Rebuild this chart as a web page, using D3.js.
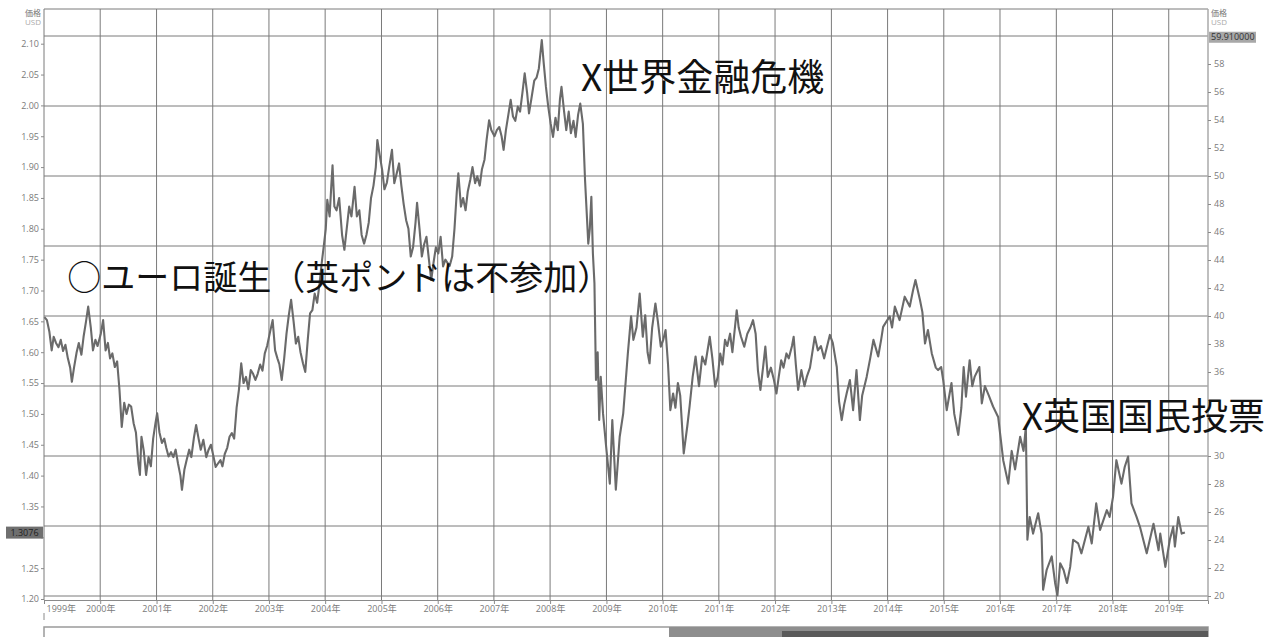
<!DOCTYPE html>
<html><head><meta charset="utf-8">
<script src="https://cdn.jsdelivr.net/npm/d3@7"></script>
<style>
html,body{margin:0;padding:0;background:#fff;}
svg{display:block;}
</style></head>
<body>
<svg id="chart" width="1280" height="637"></svg>
<script>
// ---- data (GBP/USD) ----
const gbpUsd = [
["1999-01-04",1.657],["1999-01-20",1.652],["1999-02-05",1.633],["1999-02-20",1.603],["1999-03-05",1.625],["1999-03-20",1.615],
["1999-04-05",1.608],["1999-04-20",1.620],["1999-05-05",1.602],["1999-05-20",1.612],["1999-06-05",1.590],["1999-06-20",1.575],
["1999-07-01",1.552],["1999-07-15",1.575],["1999-08-01",1.600],["1999-08-15",1.615],["1999-09-01",1.596],["1999-09-15",1.625],
["1999-10-01",1.650],["1999-10-15",1.674],["1999-11-01",1.640],["1999-11-15",1.603],["1999-12-01",1.620],["1999-12-15",1.610],
["2000-01-05",1.630],["2000-01-20",1.652],["2000-02-05",1.603],["2000-02-20",1.615],["2000-03-05",1.590],["2000-03-20",1.598],
["2000-04-05",1.576],["2000-04-20",1.585],["2000-05-05",1.540],["2000-05-20",1.479],["2000-06-05",1.518],["2000-06-20",1.500],
["2000-07-05",1.515],["2000-07-20",1.512],["2000-08-05",1.485],["2000-08-20",1.470],["2000-09-05",1.420],["2000-09-15",1.401],
["2000-09-25",1.463],["2000-10-10",1.440],["2000-10-25",1.401],["2000-11-10",1.430],["2000-11-25",1.415],["2000-12-10",1.460],
["2000-12-25",1.485],
["2001-01-05",1.501],["2001-01-20",1.470],["2001-02-05",1.453],["2001-02-20",1.460],["2001-03-05",1.445],["2001-03-20",1.431],
["2001-04-05",1.438],["2001-04-20",1.430],["2001-05-05",1.442],["2001-05-20",1.420],["2001-06-05",1.400],["2001-06-15",1.377],
["2001-07-01",1.410],["2001-07-15",1.425],["2001-08-01",1.442],["2001-08-15",1.430],["2001-09-01",1.462],["2001-09-15",1.482],
["2001-10-01",1.460],["2001-10-15",1.442],["2001-11-01",1.458],["2001-11-20",1.430],["2001-12-05",1.442],["2001-12-20",1.450],
["2002-01-05",1.432],["2002-01-20",1.414],["2002-02-05",1.420],["2002-02-20",1.425],["2002-03-05",1.415],["2002-03-20",1.435],
["2002-04-05",1.445],["2002-04-20",1.463],["2002-05-05",1.469],["2002-05-20",1.460],["2002-06-05",1.510],["2002-06-20",1.539],
["2002-07-05",1.582],["2002-07-20",1.550],["2002-08-05",1.560],["2002-08-20",1.540],["2002-09-05",1.571],["2002-09-20",1.565],
["2002-10-05",1.555],["2002-10-20",1.565],["2002-11-05",1.580],["2002-11-20",1.570],["2002-12-05",1.598],["2002-12-20",1.610],
["2003-01-10",1.635],["2003-01-25",1.652],["2003-02-10",1.603],["2003-02-25",1.590],["2003-03-10",1.580],["2003-03-25",1.555],
["2003-04-10",1.590],["2003-04-25",1.630],["2003-05-10",1.660],["2003-05-25",1.685],["2003-06-10",1.650],["2003-06-25",1.614],
["2003-07-10",1.625],["2003-07-25",1.600],["2003-08-10",1.582],["2003-08-25",1.568],["2003-09-10",1.620],["2003-09-25",1.663],
["2003-10-10",1.668],["2003-10-25",1.695],["2003-11-10",1.680],["2003-11-25",1.710],["2003-12-10",1.745],["2003-12-25",1.776],
["2004-01-05",1.800],["2004-01-15",1.847],["2004-01-30",1.820],["2004-02-10",1.870],["2004-02-18",1.903],["2004-03-01",1.836],
["2004-03-15",1.830],["2004-04-01",1.850],["2004-04-20",1.790],["2004-05-05",1.766],["2004-05-20",1.800],["2004-06-05",1.836],
["2004-06-20",1.820],["2004-07-10",1.868],["2004-07-25",1.820],["2004-08-10",1.830],["2004-08-25",1.790],["2004-09-10",1.776],
["2004-09-25",1.790],["2004-10-10",1.810],["2004-10-25",1.850],["2004-11-10",1.870],["2004-11-25",1.900],["2004-12-05",1.944],
["2004-12-20",1.920],
["2005-01-05",1.896],["2005-01-20",1.864],["2005-02-05",1.875],["2005-02-20",1.900],["2005-03-10",1.928],["2005-03-25",1.874],
["2005-04-10",1.890],["2005-04-25",1.906],["2005-05-10",1.870],["2005-05-25",1.840],["2005-06-10",1.814],["2005-06-25",1.800],
["2005-07-10",1.755],["2005-07-25",1.770],["2005-08-10",1.810],["2005-08-20",1.842],["2005-09-05",1.800],["2005-09-20",1.755],
["2005-10-05",1.775],["2005-10-20",1.787],["2005-11-05",1.750],["2005-11-20",1.717],["2005-12-05",1.745],["2005-12-20",1.770],
["2006-01-05",1.760],["2006-01-20",1.787],["2006-02-05",1.739],["2006-02-20",1.750],["2006-03-05",1.745],["2006-03-20",1.740],
["2006-04-05",1.755],["2006-04-20",1.800],["2006-05-05",1.860],["2006-05-15",1.890],["2006-06-01",1.836],["2006-06-15",1.850],
["2006-07-01",1.830],["2006-07-15",1.860],["2006-08-01",1.880],["2006-08-15",1.900],["2006-09-01",1.874],["2006-09-15",1.885],
["2006-10-01",1.870],["2006-10-15",1.896],["2006-11-01",1.912],["2006-11-15",1.945],["2006-12-01",1.976],["2006-12-15",1.960],
["2007-01-05",1.950],["2007-01-20",1.960],["2007-02-05",1.965],["2007-02-20",1.950],["2007-03-05",1.928],["2007-03-20",1.960],
["2007-04-05",1.985],["2007-04-20",2.009],["2007-05-05",1.982],["2007-05-20",1.975],["2007-06-05",1.998],["2007-06-20",1.990],
["2007-07-05",2.020],["2007-07-20",2.052],["2007-08-05",2.020],["2007-08-17",1.987],["2007-09-01",2.010],["2007-09-20",2.040],
["2007-10-05",2.045],["2007-10-20",2.060],["2007-11-08",2.106],["2007-11-20",2.070],["2007-12-05",2.030],["2007-12-20",1.998],
["2008-01-05",1.970],["2008-01-20",1.949],["2008-02-05",1.980],["2008-02-20",1.960],["2008-03-05",2.010],["2008-03-15",2.030],
["2008-04-01",1.990],["2008-04-15",1.960],["2008-05-01",1.990],["2008-05-15",1.955],["2008-06-01",1.975],["2008-06-15",1.949],
["2008-07-01",1.985],["2008-07-15",2.003],["2008-08-01",1.970],["2008-08-15",1.879],["2008-09-05",1.776],["2008-09-15",1.800],
["2008-09-25",1.852],["2008-10-05",1.760],["2008-10-15",1.712],["2008-10-25",1.555],["2008-11-05",1.600],["2008-11-15",1.490],
["2008-11-25",1.560],["2008-12-10",1.500],["2008-12-30",1.447],
["2009-01-23",1.387],["2009-02-08",1.490],["2009-03-03",1.377],["2009-03-28",1.463],["2009-04-20",1.501],["2009-05-20",1.598],
["2009-06-10",1.658],["2009-06-25",1.620],["2009-07-15",1.640],["2009-08-05",1.695],["2009-08-25",1.625],["2009-09-10",1.660],
["2009-09-25",1.600],["2009-10-08",1.582],["2009-10-25",1.640],["2009-11-15",1.679],["2009-12-01",1.650],["2009-12-20",1.609],
["2010-01-05",1.620],["2010-01-20",1.636],["2010-02-05",1.580],["2010-02-20",1.506],["2010-03-10",1.533],["2010-03-25",1.510],
["2010-04-10",1.550],["2010-04-25",1.530],["2010-05-18",1.436],["2010-06-10",1.480],["2010-06-25",1.512],["2010-07-15",1.560],
["2010-08-03",1.593],["2010-08-25",1.545],["2010-09-15",1.593],["2010-10-05",1.580],["2010-11-03",1.625],["2010-11-20",1.590],
["2010-12-08",1.544],["2010-12-25",1.560],
["2011-01-10",1.598],["2011-01-25",1.580],["2011-02-10",1.620],["2011-02-25",1.610],["2011-03-15",1.630],["2011-03-30",1.600],
["2011-04-27",1.668],["2011-05-10",1.640],["2011-05-25",1.625],["2011-06-15",1.609],["2011-07-05",1.630],["2011-07-25",1.640],
["2011-08-11",1.652],["2011-08-28",1.630],["2011-09-12",1.570],["2011-09-28",1.539],["2011-10-15",1.575],["2011-10-30",1.609],
["2011-11-15",1.560],["2011-12-05",1.575],["2011-12-25",1.555],
["2012-01-10",1.533],["2012-01-25",1.560],["2012-02-10",1.587],["2012-02-25",1.575],["2012-03-15",1.598],["2012-03-30",1.590],
["2012-04-20",1.610],["2012-05-01",1.625],["2012-05-15",1.580],["2012-05-30",1.539],["2012-06-20",1.571],["2012-07-10",1.545],
["2012-07-25",1.560],["2012-08-15",1.575],["2012-09-15",1.625],["2012-10-05",1.603],["2012-10-25",1.610],["2012-11-15",1.590],
["2012-12-22",1.628],
["2013-01-10",1.615],["2013-02-05",1.576],["2013-02-20",1.520],["2013-03-09",1.490],["2013-03-25",1.515],["2013-04-10",1.533],
["2013-05-01",1.555],["2013-05-22",1.506],["2013-06-13",1.571],["2013-07-05",1.490],["2013-07-20",1.530],["2013-08-18",1.560],
["2013-09-10",1.590],["2013-10-01",1.620],["2013-11-01",1.593],["2013-11-20",1.620],["2013-12-03",1.641],["2013-12-25",1.650],
["2014-01-15",1.658],["2014-01-30",1.640],["2014-02-17",1.674],["2014-03-20",1.652],["2014-04-22",1.690],["2014-05-25",1.674],
["2014-06-15",1.700],["2014-07-01",1.717],["2014-07-30",1.685],["2014-08-15",1.665],["2014-09-01",1.614],["2014-09-20",1.636],
["2014-10-15",1.598],["2014-11-10",1.575],["2014-11-25",1.571],["2014-12-15",1.576],["2014-12-28",1.555],
["2015-01-20",1.506],["2015-02-20",1.550],["2015-03-10",1.500],["2015-04-05",1.466],["2015-04-25",1.510],["2015-05-10",1.576],
["2015-05-25",1.528],["2015-06-18",1.587],["2015-07-05",1.545],["2015-07-20",1.560],["2015-08-20",1.576],["2015-09-05",1.517],
["2015-09-25",1.545],["2015-10-20",1.530],["2015-11-17",1.512],["2015-12-20",1.495],
["2016-01-22",1.425],["2016-02-24",1.387],["2016-03-17",1.440],["2016-04-08",1.410],["2016-05-11",1.463],["2016-06-02",1.440],
["2016-06-17",1.479],["2016-06-27",1.296],["2016-07-12",1.333],["2016-08-03",1.306],["2016-09-05",1.339],["2016-09-27",1.306],
["2016-10-07",1.215],["2016-10-30",1.247],["2016-12-02",1.269],["2016-12-24",1.226],
["2017-01-08",1.206],["2017-01-26",1.258],["2017-02-17",1.247],["2017-03-11",1.226],["2017-04-01",1.252],["2017-04-20",1.296],
["2017-05-23",1.290],["2017-06-13",1.274],["2017-07-28",1.317],["2017-08-19",1.290],["2017-09-17",1.355],["2017-10-12",1.312],
["2017-11-25",1.344],["2017-12-13",1.333],
["2018-01-04",1.365],["2018-01-26",1.425],["2018-02-28",1.387],["2018-03-21",1.414],["2018-04-12",1.431],["2018-05-04",1.355],
["2018-06-06",1.333],["2018-06-28",1.317],["2018-08-11",1.274],["2018-09-24",1.322],["2018-10-27",1.279],["2018-11-07",1.306],
["2018-12-10",1.252],
["2019-01-08",1.296],["2019-01-30",1.317],["2019-02-10",1.285],["2019-03-04",1.333],["2019-03-26",1.306],["2019-04-16",1.3076]
];
const leftTicks = [1.20,1.25,1.30,1.35,1.40,1.45,1.50,1.55,1.60,1.65,1.70,1.75,1.80,1.85,1.90,1.95,2.00,2.05,2.10];
const rightTicks = [20,22,24,26,28,30,32,34,36,38,40,42,44,46,48,50,52,54,56,58];
const rightGrid = [20,25,30,35,40,45,50,55,60];
const yearTicks = d3.range(1999, 2020);
const lastLeftLabel = "1.3076";
const lastRightLabel = "59.910000";
const axisUnitTitle = ["価格","USD"];
const annotations = [
  {text:"○ユーロ誕生（英ポンドは不参加）", date:"1999-06-01", value:1.701, size:34},
  {text:"X世界金融危機", date:"2008-07-20", value:2.024, size:37},
  {text:"X英国国民投票", date:"2016-05-22", value:1.474, size:37}
];

// ---- layout ----
const svg = d3.select("#chart");
const L = 44, R = 1208, T = 9, B = 600;
const parse = d3.timeParse("%Y-%m-%d");
const data = gbpUsd.map(d => ({date: parse(d[0]), value: d[1]}));

const x = d3.scaleTime().domain([new Date(1999,0,1), new Date(2019,8,13)]).range([L, R]);
const yL = d3.scaleLinear().domain([1.20, 2.10]).range([599, 43.7]);
const yR = d3.scaleLinear().domain([20, 60]).range([596, 36]);

const grid = svg.append("g");
grid.selectAll("line.h").data(rightGrid).join("line")
  .attr("x1", L).attr("x2", R).attr("y1", d => yR(d)).attr("y2", d => yR(d))
  .attr("stroke", "#7a7a7a").attr("stroke-width", 1);
grid.selectAll("line.v").data(yearTicks.slice(1)).join("line")
  .attr("x1", d => x(new Date(d,0,1))).attr("x2", d => x(new Date(d,0,1)))
  .attr("y1", T).attr("y2", B)
  .attr("stroke", "#7a7a7a").attr("stroke-width", 1);
svg.append("line").attr("x1", L).attr("x2", R).attr("y1", T).attr("y2", T).attr("stroke", "#7a7a7a");
svg.append("line").attr("x1", L).attr("x2", L).attr("y1", T).attr("y2", B).attr("stroke", "#7a7a7a");
svg.append("line").attr("x1", R).attr("x2", R).attr("y1", T).attr("y2", B).attr("stroke", "#aaaaaa").attr("stroke-width", 1.5);

// series
const line = d3.line().x(d => x(d.date)).y(d => yL(d.value));
svg.append("path").datum(data).attr("d", line)
  .attr("fill", "none").attr("stroke", "#6a6a6a").attr("stroke-width", 2.1).attr("stroke-linejoin", "round");

// axes
const tickFont = "Open Sans, sans-serif";
const gL = svg.append("g").attr("transform", `translate(${L},0)`)
  .call(d3.axisLeft(yL).tickValues(leftTicks).tickSize(3).tickPadding(2).tickFormat(d3.format(".2f")));
const gR = svg.append("g").attr("transform", `translate(${R},0)`)
  .call(d3.axisRight(yR).tickValues(rightTicks).tickSize(3).tickPadding(3).tickFormat(d3.format("d")));
const gX = svg.append("g").attr("transform", `translate(0,${B})`)
  .call(d3.axisBottom(x).tickValues(yearTicks.map(y => new Date(y,0,1))).tickSize(4).tickPadding(2)
    .tickFormat(d => d.getFullYear() + "年"));
[gL, gR, gX].forEach(g => {
  g.select(".domain").attr("stroke", "#8a8a8a");
  g.selectAll(".tick line").attr("stroke", "#8a8a8a");
  g.selectAll(".tick text").attr("fill", "#7a7a7a").style("font-family", tickFont).style("font-size", "9px");
});
gL.select(".domain").remove();
gR.select(".domain").remove();
// labels hidden behind the last-value box and the big annotation in the reference
gL.selectAll(".tick").filter(d => Math.abs(d - 1.30) < 1e-9).select("text").remove();
gR.selectAll(".tick").filter(d => d === 32 || d === 34).select("text").remove();
gX.selectAll(".tick text").style("font-family", "Open Sans, 'Noto Sans CJK JP', sans-serif");
gX.selectAll(".tick").filter(d => d.getFullYear() === 1999).select("text").attr("text-anchor", "start").attr("dx", 2);
svg.append("line").attr("x1", L).attr("x2", L).attr("y1", 613).attr("y2", 620).attr("stroke", "#8a8a8a");

// unit titles
[[41, "end"], [1211, "start"]].forEach(([tx, anchor]) => {
  svg.append("text").attr("x", tx).attr("y", 16).attr("text-anchor", anchor)
    .style("font-family", "'Noto Sans CJK JP', sans-serif").style("font-size", "8px").attr("fill", "#777").text(axisUnitTitle[0]);
  svg.append("text").attr("x", tx).attr("y", 25).attr("text-anchor", anchor)
    .style("font-family", tickFont).style("font-size", "8px").attr("fill", "#aaa").text(axisUnitTitle[1]);
});

// last value boxes
const lastY = yL(data[data.length-1].value);
svg.append("rect").attr("x", 6).attr("y", lastY - 6).attr("width", 37).attr("height", 12).attr("fill", "#6f6f6f");
svg.append("text").attr("x", 24.5).attr("y", lastY + 3.2).attr("text-anchor", "middle")
  .style("font-family", tickFont).style("font-size", "9px").attr("fill", "#222").text(lastLeftLabel);
const topY = yR(59.91);
svg.append("rect").attr("x", 1209).attr("y", topY - 5.5).attr("width", 47).attr("height", 11).attr("fill", "#a8a8a8");
svg.append("text").attr("x", 1211).attr("y", topY + 3.2)
  .style("font-family", tickFont).style("font-size", "9px").attr("fill", "#333").text(lastRightLabel);

// navigator strip
svg.append("rect").attr("x", L).attr("y", 627).attr("width", R - L).attr("height", 14)
  .attr("fill", "#fff").attr("stroke", "#9a9a9a").attr("stroke-width", 1.5);
svg.append("rect").attr("x", 669).attr("y", 627).attr("width", R - 669).attr("height", 14).attr("fill", "#8e8e8e");
svg.append("rect").attr("x", 782).attr("y", 631).attr("width", R - 782).attr("height", 10).attr("fill", "#5a5a5a");

// annotations
svg.selectAll("text.ann").data(annotations).join("text")
  .attr("class", "ann")
  .attr("x", d => x(parse(d.date))).attr("y", d => yL(d.value))
  .style("font-family", "'Noto Sans CJK JP', sans-serif").style("font-size", d => d.size + "px")
  .attr("fill", "#111").text(d => d.text);
</script>
</body></html>
